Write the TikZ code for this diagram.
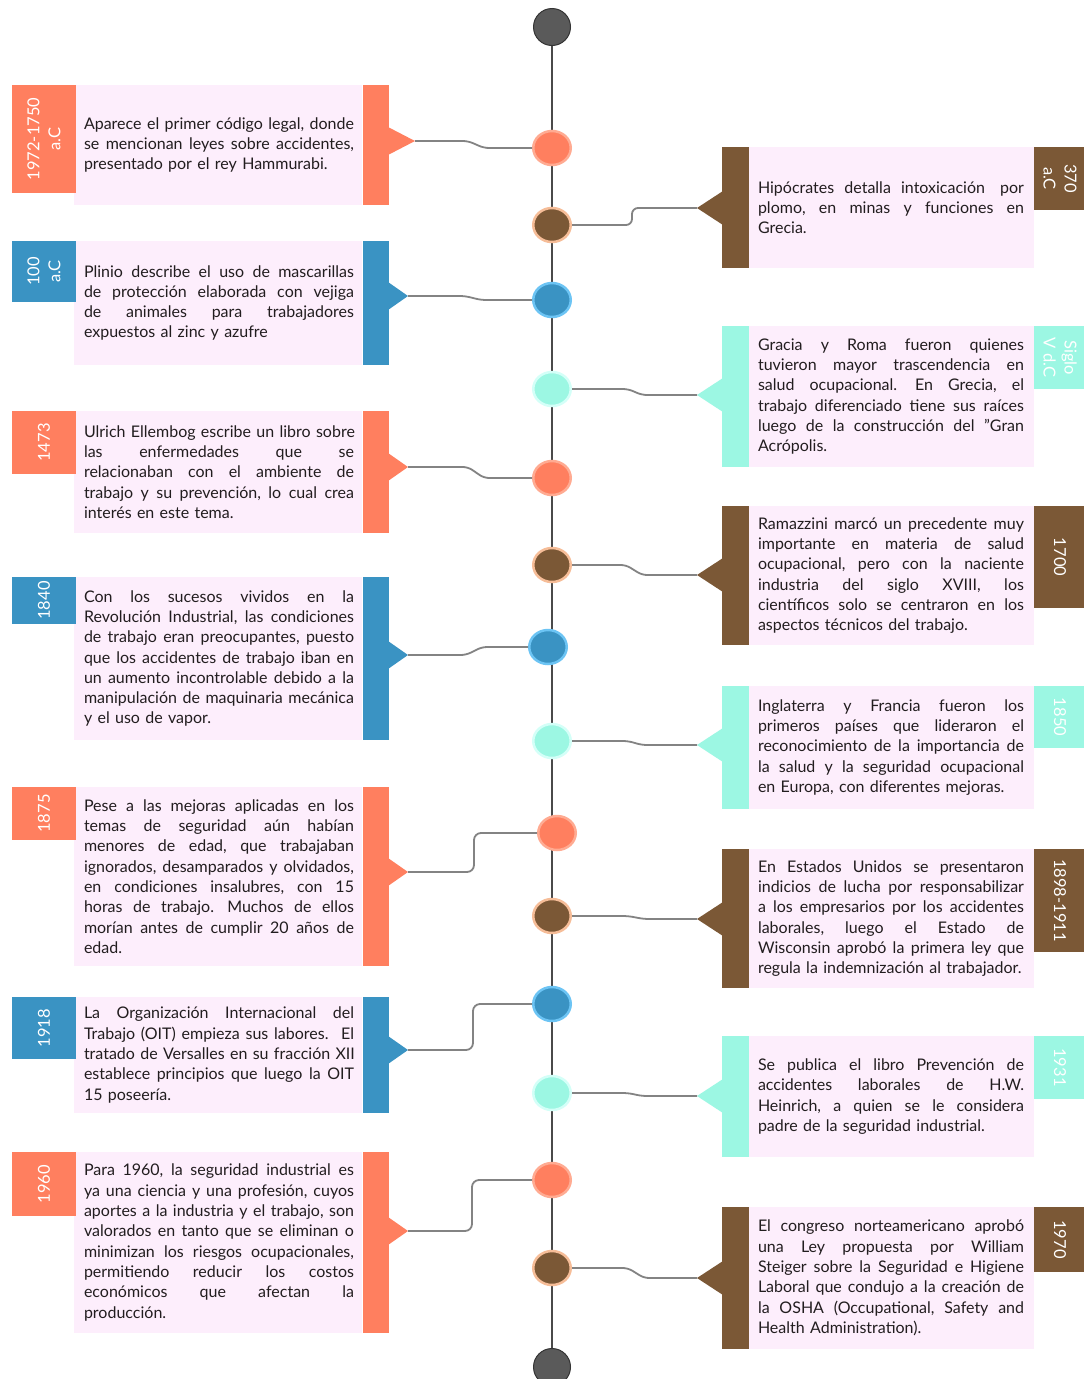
\documentclass[tikz,border=0pt]{standalone}
\usepackage{fontspec}
\setmainfont{Lato}
\usetikzlibrary{shapes.geometric}

\definecolor{salmon}{HTML}{FF7F5F}
\definecolor{salmonrim}{HTML}{FFAB92}
\definecolor{brownc}{HTML}{7B5836}
\definecolor{brownrim}{HTML}{F6BD98}
\definecolor{bluec}{HTML}{3A93C3}
\definecolor{bluerim}{HTML}{6CC4F4}
\definecolor{mintc}{HTML}{9CF7E3}
\definecolor{mintrim}{HTML}{D4FFF8}
\definecolor{pinkbg}{HTML}{FDEEFC}
\definecolor{inkcol}{HTML}{221D1F}
\definecolor{axiscol}{HTML}{4A4A4A}
\definecolor{wirecol}{HTML}{838383}
\definecolor{endcol}{HTML}{5A5A5A}

% width of a description column; \J sets one justified line of it
\newlength\bodyw
\def\Jwords#1 #2\Jstop{#1\ifx\relax#2\relax\else\space\hfil\Jwords#2\Jstop\fi}
\newcommand\J[1]{\leavevmode\hbox to \bodyw{\Jwords#1 \Jstop}}

\tikzset{
  axisline/.style={draw=axiscol, line width=2.2pt},
  wire/.style={draw=wirecol, line width=1.8pt, rounded corners=5pt},
  dot/.style={ellipse, minimum width=37.5pt, minimum height=34pt, inner sep=0pt, line width=2.5pt},
  enddot/.style={circle, minimum size=37pt, inner sep=0pt, fill=endcol, draw=axiscol!70!black, line width=1pt},
  bodytext/.style={text width=#1, align=left, inner sep=0pt, text=inkcol,
    font=\fontsize{16}{20.3}\selectfont,
    execute at begin node={\setlength\bodyw{#1}}},
  yearlbl/.style={align=center, inner sep=0pt, text=white,
    font=\fontsize{16.5}{21}\selectfont},
}

% event on the left of the axis:
% #1 id, #2 colour, #3 top, #4 bottom, #5 tab bottom, #6 tip x, #7 tip y, #8 year, #9 text
\newcommand\leftevent[9]{%
  \fill[pinkbg] (74,#3) rectangle (362,#4);
  \fill[#2] (363,#3) rectangle (389,#4);
  \fill[#2] (388,{#7-14}) -- (#6,#7) -- (388,{#7+14}) -- cycle;
  \fill[#2] (12,#3) rectangle (76,#5);
  \node[yearlbl, rotate=90] (#1year) at (44,{(#3+#5)/2}) {#8};
  \node[bodytext=270pt] (#1body) at (219,{(#3+#4)/2}) {#9};
  \coordinate (#1tip) at (#6,#7);
}

% event on the right of the axis
\newcommand\rightevent[9]{%
  \fill[pinkbg] (748,#3) rectangle (1034,#4);
  \fill[#2] (722,#3) rectangle (749,#4);
  \fill[#2] (723,{#7-17}) -- (#6,#7) -- (723,{#7+17}) -- cycle;
  \fill[#2] (1034,#3) rectangle (1100,#5);
  \node[yearlbl, rotate=-90] (#1year) at (1060,{(#3+#5)/2}) {#8};
  \node[bodytext=266pt] (#1body) at (891,{(#3+#4)/2}) {#9};
  \coordinate (#1tip) at (#6,#7);
}

\begin{document}
\begin{tikzpicture}[x=1pt, y=-1pt]
\useasboundingbox (0,0) rectangle (1084,1379);
\fill[white] (0,0) rectangle (1084,1379);

% axis with its two end caps
\node[enddot] (top) at (552,27) {};
\node[enddot] (bottom) at (552,1367) {};
\draw[axisline] (top.south) -- (bottom.north);

% milestones on the axis
\node[dot, fill=salmon, draw=salmonrim] (d1)  at (552,148) {};
\node[dot, fill=brownc, draw=brownrim]  (d2)  at (552,225) {};
\node[dot, fill=bluec,  draw=bluerim]   (d3)  at (552,300) {};
\node[dot, fill=mintc,  draw=mintrim]   (d4)  at (552,389) {};
\node[dot, fill=salmon, draw=salmonrim] (d5)  at (552,478) {};
\node[dot, fill=brownc, draw=brownrim]  (d6)  at (552,565) {};
\node[dot, fill=bluec,  draw=bluerim]   (d7)  at (548,647) {};
\node[dot, fill=mintc,  draw=mintrim]   (d8)  at (552,741) {};
\node[dot, fill=salmon, draw=salmonrim] (d9)  at (557,833) {};
\node[dot, fill=brownc, draw=brownrim]  (d10) at (552,916) {};
\node[dot, fill=bluec,  draw=bluerim]   (d11) at (552,1004) {};
\node[dot, fill=mintc,  draw=mintrim]   (d12) at (552,1093) {};
\node[dot, fill=salmon, draw=salmonrim] (d13) at (552,1180) {};
\node[dot, fill=brownc, draw=brownrim]  (d14) at (552,1268) {};

% left column
\leftevent{e1}{salmon}{85}{205}{193}{415}{141}{1972-1750\\a.C}{%
\J{Aparece el primer código legal, donde}\\\J{se mencionan leyes sobre accidentes,}\\presentado por el rey Hammurabi.}

\leftevent{e3}{bluec}{241}{365}{302}{408}{296}{100\\a.C}{%
\J{Plinio describe el uso de mascarillas}\\\J{de protección elaborada con vejiga}\\\J{de animales para trabajadores}\\expuestos al zinc y azufre}

\leftevent{e5}{salmon}{411}{533}{474}{408}{467}{1473}{%
\J{Ulrich Ellembog escribe un libro sobre}\\\J{las enfermedades que se}\\\J{relacionaban con el ambiente de}\\\J{trabajo y su prevención, lo cual crea}\\interés en este tema.}

\leftevent{e7}{bluec}{577}{740}{624}{408}{655}{1840}{%
\J{Con los sucesos vividos en la}\\\J{Revolución Industrial, las condiciones}\\\J{de trabajo eran preocupantes, puesto}\\\J{que los accidentes de trabajo iban en}\\\J{un aumento incontrolable debido a la}\\\J{manipulación de maquinaria mecánica}\\y el uso de vapor.}

\leftevent{e9}{salmon}{787}{966}{840}{408}{872}{1875}{%
\J{Pese a las mejoras aplicadas en los}\\\J{temas de seguridad aún habían}\\\J{menores de edad, que trabajaban}\\\J{ignorados, desamparados y olvidados,}\\\J{en condiciones insalubres, con 15}\\\J{horas de trabajo. Muchos de ellos}\\\J{morían antes de cumplir 20 años de}\\edad.}

\leftevent{e11}{bluec}{997}{1113}{1059}{408}{1050}{1918}{%
\J{La Organización Internacional del}\\\J{Trabajo (OIT) empieza sus labores.\hspace{4pt} El}\\\J{tratado de Versalles en su fracción XII}\\\J{establece principios que luego la OIT}\\15 poseería.}

\leftevent{e13}{salmon}{1152}{1333}{1216}{408}{1231}{1960}{%
\J{Para 1960, la seguridad industrial es}\\\J{ya una ciencia y una profesión, cuyos}\\\J{aportes a la industria y el trabajo, son}\\\J{valorados en tanto que se eliminan o}\\\J{minimizan los riesgos ocupacionales,}\\\J{permitiendo reducir los costos}\\\J{económicos que afectan la}\\producción.}

% right column
\rightevent{e2}{brownc}{147}{268}{210}{697}{208}{370\\a.C}{%
\J{Hipócrates detalla intoxicación\hspace{5pt} por}\\\J{plomo, en minas y funciones en}\\Grecia.}

\rightevent{e4}{mintc}{326}{467}{389}{697}{395}{Siglo\\V d.C}{%
\J{Gracia y Roma fueron quienes}\\\J{tuvieron mayor trascendencia en}\\\J{salud ocupacional. En Grecia, el}\\\J{trabajo diferenciado tiene sus raíces}\\\J{luego de la construcción del "Gran}\\Acrópolis.}

\rightevent{e6}{brownc}{506}{645}{608}{697}{575}{1700}{%
\J{Ramazzini marcó un precedente muy}\\\J{importante en materia de salud}\\\J{ocupacional, pero con la naciente}\\\J{industria del siglo XVIII, los}\\\J{científicos solo se centraron en los}\\aspectos técnicos del trabajo.}

\rightevent{e8}{mintc}{686}{809}{748}{697}{745}{1850}{%
\J{Inglaterra y Francia fueron los}\\\J{primeros países que lideraron el}\\\J{reconocimiento de la importancia de}\\\J{la salud y la seguridad ocupacional}\\en Europa, con diferentes mejoras.}

\rightevent{e10}{brownc}{849}{988}{952}{697}{919}{1898-1911}{%
\J{En Estados Unidos se presentaron}\\\J{indicios de lucha por responsabilizar}\\\J{a los empresarios por los accidentes}\\\J{laborales, luego el Estado de}\\\J{Wisconsin aprobó la primera ley que}\\regula la indemnización al trabajador.}

\rightevent{e12}{mintc}{1036}{1157}{1099}{697}{1096}{1931}{%
\J{Se publica el libro Prevención de}\\\J{accidentes laborales de H.W.}\\\J{Heinrich, a quien se le considera}\\padre de la seguridad industrial.}

\rightevent{e14}{brownc}{1207}{1349}{1272}{697}{1278}{1970}{%
\J{El congreso norteamericano aprobó}\\\J{una Ley propuesta por William}\\\J{Steiger sobre la Seguridad e Higiene}\\\J{Laboral que condujo a la creación de}\\\J{la OSHA (Occupational, Safety and}\\Health Administration).}

% connectors from the boxes to the milestones
\draw[wire] (e1tip) -- (468,141) -- (484,148) -- (d1.west);
\draw[wire] (e3tip) -- (465,296) -- (481,300) -- (d3.west);
\draw[wire] (e5tip) -- (468,467) -- (484,478) -- (d5.west);
\draw[wire] (e7tip) -- (466,655) -- (482,647) -- (d7.west);
\draw[wire, rounded corners=7pt] (e9tip) -- (474,872) -- (474,833) -- (d9.west);
\draw[wire, rounded corners=7pt] (e11tip) -- (473,1050) -- (473,1004) -- (d11.west);
\draw[wire, rounded corners=7pt] (e13tip) -- (472,1231) -- (472,1180) -- (d13.west);

\draw[wire, rounded corners=6pt] (d2.east) -- (632,225) -- (632,208) -- (e2tip);
\draw[wire] (d4.east) -- (628,389) -- (642,395) -- (e4tip);
\draw[wire] (d6.east) -- (626,565) -- (642,575) -- (e6tip);
\draw[wire] (d8.east) -- (628,741) -- (642,745) -- (e8tip);
\draw[wire] (d10.east) -- (628,916) -- (644,919) -- (e10tip);
\draw[wire] (d12.east) -- (628,1093) -- (642,1096) -- (e12tip);
\draw[wire] (d14.east) -- (628,1268) -- (644,1278) -- (e14tip);
\end{tikzpicture}
\end{document}
